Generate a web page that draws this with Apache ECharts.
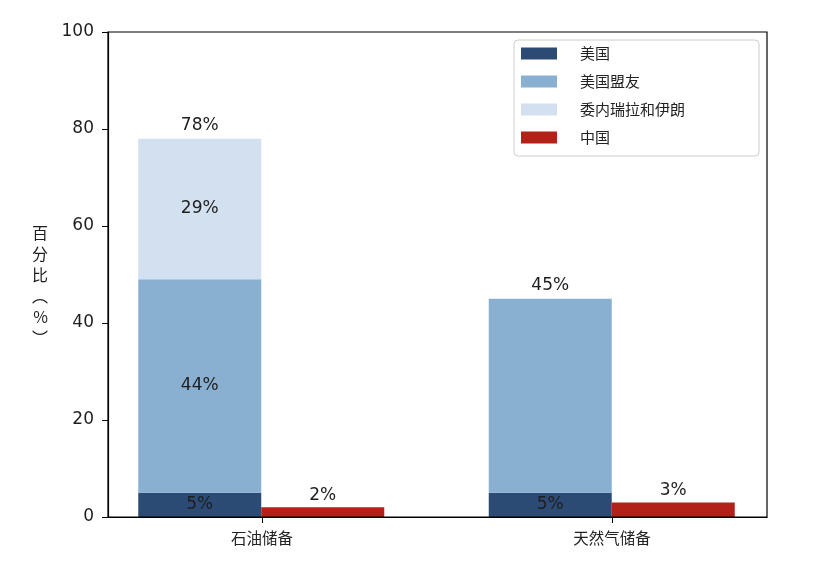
<!DOCTYPE html>
<html>
<head>
<meta charset="utf-8">
<title>储备占比</title>
<script src="https://cdn.jsdelivr.net/npm/echarts@6/dist/echarts.min.js"></script>
<style>
  html, body { margin: 0; padding: 0; background: #fff; }
  #main { width: 826px; height: 565px; }
</style>
</head>
<body>
<div id="main"></div>
<script type="text/javascript">
    // 数据
    var categories = ['石油储备', '天然气储备'];
    var usa = [5, 5];
    var allies = [44, 40];
    var venezIran = [29, 0];
    var china = [2, 3];
    var seriesNames = ['美国', '美国盟友', '委内瑞拉和伊朗', '中国'];
    var yTicks = [0, 20, 40, 60, 80, 100];

    var totals = categories.map(function (c, i) { return usa[i] + allies[i] + venezIran[i]; });
    var txt = { color: '#1e1e1e', fontSize: 17, fontFamily: 'DejaVu Sans' };
    function pct(p) { return p.value + '%'; }

    var myChart = echarts.init(document.getElementById('main'));
    var option = {
        animation: false,
        textStyle: { fontFamily: 'Noto Sans CJK SC' },
        // grid 0: 放柱子（类目轴）；grid 1: 画框、刻度和标签
        grid: [
            { left: 86, right: 39, top: 32, bottom: 48 },
            { left: 108, right: 59, top: 32, bottom: 48, show: true, borderColor: '#000', borderWidth: 1.2, z: 3 }
        ],
        legend: {
            data: seriesNames,
            orient: 'vertical',
            left: 514, top: 40,
            itemWidth: 36, itemHeight: 12, itemGap: 13,
            padding: [6, 74, 11, 7],
            borderColor: '#ccc', borderWidth: 1, borderRadius: 4,
            icon: 'rect',
            textStyle: { fontSize: 15, color: '#222', padding: [0, 0, 0, 18], fontFamily: 'Noto Sans CJK SC' }
        },
        xAxis: [
            {
                gridIndex: 0, type: 'category', data: categories,
                show: false
            },
            {
                gridIndex: 1, type: 'value',
                min: -0.44, max: 1.443,
                splitLine: { show: false },
                axisLine: { onZero: false, lineStyle: { color: '#000', width: 1.2 } },
                axisTick: { show: true, length: 6, lineStyle: { color: '#000' }, customValues: [0, 1] },
                axisLabel: {
                    customValues: [0, 1],
                    color: '#222', fontSize: 15.5, margin: 13,
                    formatter: function (v) { return categories[Math.round(v)]; }
                }
            }
        ],
        yAxis: [
            {
                gridIndex: 0, type: 'value', show: false,
                min: yTicks[0], max: yTicks[yTicks.length - 1]
            },
            {
                gridIndex: 1, type: 'value',
                min: yTicks[0], max: yTicks[yTicks.length - 1], interval: 20,
                splitLine: { show: false },
                axisLine: { show: true, onZero: false, lineStyle: { color: '#000', width: 1.2 } },
                axisTick: { show: true, length: 6, lineStyle: { color: '#000' } },
                axisLabel: { color: '#1e1e1e', fontSize: 17, margin: 14, fontFamily: 'DejaVu Sans' },
                name: '\n百\n分\n比\n︵\n%\n︶',
                nameLocation: 'middle',
                nameRotate: 0,
                nameGap: 60,
                nameTextStyle: { fontSize: 16, lineHeight: 21, color: '#1e1e1e' }
            }
        ],
        series: [
            {
                name: '美国', type: 'bar', stack: 'a', barWidth: 123, barGap: '0%',
                itemStyle: { color: '#2c4b74' },
                label: { show: true, position: 'inside', formatter: pct, textStyle: txt },
                data: usa
            },
            {
                name: '美国盟友', type: 'bar', stack: 'a',
                itemStyle: { color: '#89afd1' },
                label: {
                    show: true, position: 'inside',
                    formatter: function (p) { return venezIran[p.dataIndex] > 0 ? p.value + '%' : ''; },
                    textStyle: txt
                },
                data: allies
            },
            {
                name: '委内瑞拉和伊朗', type: 'bar', stack: 'a',
                itemStyle: { color: '#d3e0f0' },
                label: {
                    show: true, position: 'inside',
                    formatter: function (p) { return p.value > 0 ? p.value + '%' : ''; },
                    textStyle: txt
                },
                data: venezIran
            },
            {
                // 合计标签（零高度）
                name: '合计', type: 'bar', stack: 'a', silent: true,
                itemStyle: { color: 'transparent' },
                label: {
                    show: true, position: 'top', distance: 5,
                    formatter: function (p) { return totals[p.dataIndex] + '%'; },
                    textStyle: txt
                },
                data: categories.map(function () { return 0; })
            },
            {
                name: '中国', type: 'bar', barWidth: 123, barGap: '0%',
                itemStyle: { color: '#b22218' },
                label: { show: true, position: 'top', distance: 3, formatter: pct, textStyle: txt },
                data: china
            }
        ]
    };
    myChart.setOption(option);
</script>
</body>
</html>
